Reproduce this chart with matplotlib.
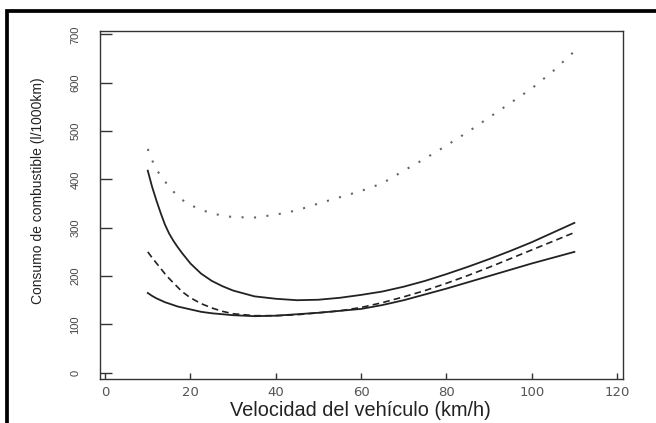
import matplotlib
matplotlib.use("Agg")
import matplotlib.pyplot as plt
from matplotlib.patches import Rectangle

# Velocidad (km/h) y consumo (l/1000km)
velocidad = [10, 11, 12, 13, 14, 15, 16, 17, 18, 20, 22.5, 25, 27.5, 30,
             35, 40, 45, 50, 55, 60, 65, 70, 75, 80, 85, 90, 95, 100, 105, 110]
curva_sup = [418, 385, 357, 331, 307, 288, 273, 260, 248, 226, 205, 190, 179, 170,
             158, 153, 150, 151, 155, 161, 168, 178, 190, 204, 219, 235, 252, 270, 290, 310]
curva_trazos = [250, 238, 227, 216, 205, 195, 186, 177, 168, 155, 143, 134, 127, 122,
                118, 118, 120, 124, 128, 135, 145, 157, 170, 185, 201, 218, 236, 254, 272, 290]
curva_inf = [165, 159, 154, 150, 146, 143, 140, 137, 135, 131, 126, 123, 121, 119,
             117, 118, 121, 124, 128, 132, 140, 150, 162, 174, 187, 200, 213, 226, 238, 250]
curva_puntos = [463, 440, 421, 408, 396, 385, 375, 366, 358, 347, 337, 330, 325, 322,
                321, 327, 336, 350, 363, 376, 392, 418, 443, 470, 498, 528, 558, 588, 624, 665]

xticks = [0, 20, 40, 60, 80, 100, 120]
yticks = [0, 100, 200, 300, 400, 500, 600, 700]

W, H = 656, 423
fig = plt.figure(figsize=(W / 100, H / 100), dpi=100)
ax = fig.add_axes([100 / W, 1 - 379 / H, 523 / W, 348 / H])

c = "#222222"
ax.plot(velocidad, curva_sup, color=c, lw=1.3)
ax.plot(velocidad, curva_trazos, color=c, lw=1.2, linestyle=(0, (4, 2.5)))
ax.plot(velocidad, curva_inf, color=c, lw=1.3)
ax.plot(velocidad, curva_puntos, color="#666666", lw=1.5, linestyle=(0, (1, 5)))

ax.set_xlim(-1.2, 121.4)
ax.set_ylim(-13, 707)
ax.set_xticks(xticks)
ax.set_yticks(yticks)

for s in ax.spines.values():
    s.set_color("#333333")
    s.set_linewidth(1.0)

ax.tick_params(axis="x", direction="in", length=4.5, width=1, colors="#333333",
               labelsize=9.5, pad=5, labelcolor="#555555")
ax.tick_params(axis="y", direction="in", length=8.5, width=1, colors="#333333",
               labelsize=8, pad=14, labelcolor="#444444", labelrotation=90)
for t in ax.get_yticklabels():
    t.set_family("Liberation Sans")
    t.set_va("center")

fig.text(360 / W, 1 - 410 / H, "Velocidad del vehículo (km/h)", ha="center",
         va="center", fontsize=14.3, family=["Liberation Sans", "DejaVu Sans"],
         color="#222222")
fig.text(38 / W, 1 - 191 / H, "Consumo de combustible (l/1000km)", ha="center",
         va="center", rotation=90, fontsize=10,
         family=["Liberation Sans", "DejaVu Sans"], color="#222222")

# marco negro exterior
fig.add_artist(Rectangle((6.5 / W, -0.2), 1.2, 1.2 - 11.5 / H,
                         transform=fig.transFigure, fill=False,
                         edgecolor="black", lw=2.7))

fig.savefig("out.png", dpi=100, facecolor="white")
